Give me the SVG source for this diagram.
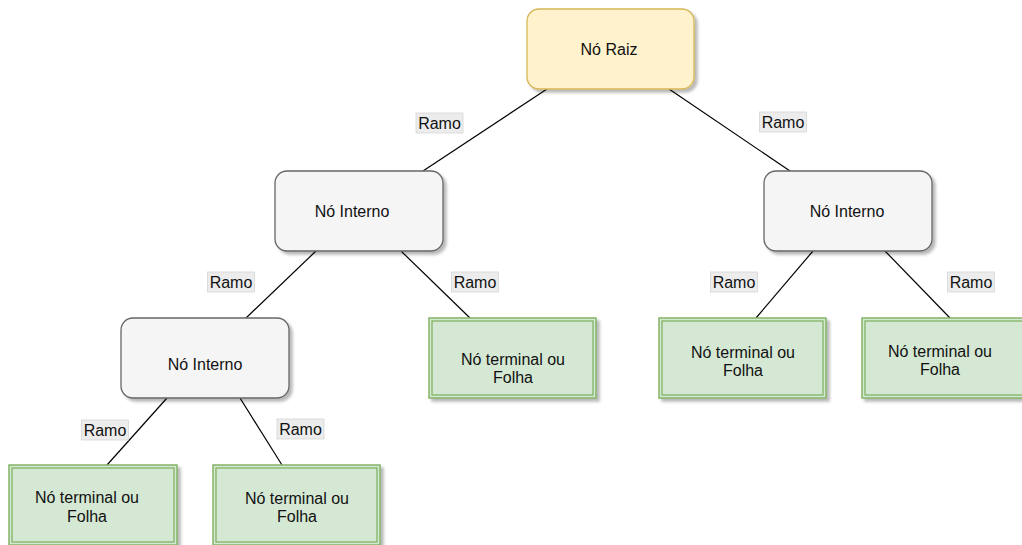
<svg xmlns="http://www.w3.org/2000/svg" width="1022" height="545" viewBox="0 0 1022 545">
<style>
text{font-family:"Liberation Sans",Arial,sans-serif;font-size:16px;fill:#111;text-anchor:middle}
.root{fill:#fff2cc;stroke:#d6b656;stroke-width:1.3}
.int{fill:#f5f5f5;stroke:#666;stroke-width:1.3}
.leaf{fill:#d5e8d4;stroke:#82b366;stroke-width:1.5}
.leafin{fill:none;stroke:#82b366;stroke-width:1.3}
.edge{stroke:#000;stroke-width:1.2;fill:none}
.lbl{fill:#ececec;stroke:#d6d6d6;stroke-width:0.8}
</style>
<defs>
<filter id="sh" x="-10%" y="-10%" width="130%" height="140%">
<feDropShadow dx="3" dy="3" stdDeviation="1.5" flood-color="#000" flood-opacity="0.28"/>
</filter>
</defs>
<g id="connectors">
<line class="edge" x1="547" y1="89" x2="423" y2="171"/>
<line class="edge" x1="669" y1="89" x2="790" y2="171"/>
<line class="edge" x1="316" y1="251" x2="246" y2="318"/>
<line class="edge" x1="401" y1="251" x2="470" y2="318"/>
<line class="edge" x1="813" y1="251" x2="756" y2="318"/>
<line class="edge" x1="885" y1="251" x2="950" y2="318"/>
<line class="edge" x1="167" y1="398" x2="107" y2="465"/>
<line class="edge" x1="240" y1="398" x2="282" y2="465"/>
<g id="labels">
<rect class="lbl" x="416" y="113" width="47" height="20"/><text x="439.5" y="128.5">Ramo</text>
<rect class="lbl" x="759.5" y="112" width="47" height="20"/><text x="783" y="127.5">Ramo</text>
<rect class="lbl" x="207.5" y="272" width="47" height="20"/><text x="231" y="287.5">Ramo</text>
<rect class="lbl" x="451.5" y="272" width="47" height="20"/><text x="475" y="287.5">Ramo</text>
<rect class="lbl" x="710.5" y="272" width="47" height="20"/><text x="734" y="287.5">Ramo</text>
<rect class="lbl" x="947.5" y="272" width="47" height="20"/><text x="971" y="287.5">Ramo</text>
<rect class="lbl" x="81.5" y="420" width="47" height="20"/><text x="105" y="435.5">Ramo</text>
<rect class="lbl" x="277" y="419" width="47" height="20"/><text x="300.5" y="434.5">Ramo</text>
</g>
</g>
<g id="root">
<rect class="root" x="527" y="9" width="167" height="80" rx="12" filter="url(#sh)"/>
<text x="609" y="55">Nó Raiz</text>
</g>
<g id="internal1">
<rect class="int" x="275" y="171" width="168" height="80" rx="12" filter="url(#sh)"/>
<text x="352" y="217">Nó Interno</text>
</g>
<g id="internal2">
<rect class="int" x="764" y="171" width="168" height="80" rx="12" filter="url(#sh)"/>
<text x="847" y="217">Nó Interno</text>
</g>
<g id="internal3">
<rect class="int" x="121" y="318" width="168" height="80" rx="12" filter="url(#sh)"/>
<text x="205" y="370">Nó Interno</text>
</g>
<g id="leafA">
<rect class="leaf" x="429" y="318" width="167" height="80" filter="url(#sh)"/>
<rect class="leafin" x="432" y="321" width="161" height="74"/>
<text x="513" y="365">Nó terminal ou</text>
<text x="513" y="383">Folha</text>
</g>
<g id="leafB">
<rect class="leaf" x="659" y="318" width="167" height="80" filter="url(#sh)"/>
<rect class="leafin" x="662" y="321" width="161" height="74"/>
<text x="743" y="358">Nó terminal ou</text>
<text x="743" y="376">Folha</text>
</g>
<g id="leafC">
<rect class="leaf" x="862" y="318" width="167" height="80" filter="url(#sh)"/>
<rect class="leafin" x="865" y="321" width="161" height="74"/>
<text x="940" y="357">Nó terminal ou</text>
<text x="940" y="375">Folha</text>
</g>
<g id="leafD">
<rect class="leaf" x="9" y="465" width="168" height="80" filter="url(#sh)"/>
<rect class="leafin" x="12" y="468" width="162" height="74"/>
<text x="87" y="503">Nó terminal ou</text>
<text x="87" y="522">Folha</text>
</g>
<g id="leafE">
<rect class="leaf" x="213" y="465" width="167" height="80" filter="url(#sh)"/>
<rect class="leafin" x="216" y="468" width="161" height="74"/>
<text x="297" y="504">Nó terminal ou</text>
<text x="297" y="522">Folha</text>
</g>
</svg>
